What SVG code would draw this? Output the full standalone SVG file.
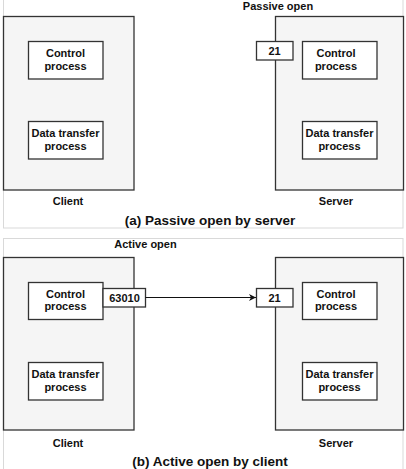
<svg xmlns="http://www.w3.org/2000/svg" width="406" height="469" viewBox="0 0 406 469">
<style>
.frame{fill:#ffffff;stroke:#d9d9d9;stroke-width:1}
.host{fill:#f5f5f5;stroke:#333333;stroke-width:1.3}
.proc{fill:#ffffff;stroke:#333333;stroke-width:1.3}
.t{font-family:"Liberation Sans",Arial,sans-serif;font-weight:bold;font-size:11px;fill:#111111;text-anchor:middle}
.cap{font-family:"Liberation Sans",Arial,sans-serif;font-weight:bold;font-size:13.5px;fill:#111111;text-anchor:middle}
.conn{stroke:#111111;stroke-width:1.2;fill:none}
</style>
<defs>
<marker id="arr" markerWidth="8" markerHeight="8" refX="7" refY="4" orient="auto" markerUnits="userSpaceOnUse">
<path d="M0,0.5 L7,4 L0,7.5 L2,4 Z" fill="#111111"/>
</marker>
</defs>
<g id="panel-a">
<rect class="frame" x="3.5" y="-1" width="399.5" height="229"/>
<text class="t" x="278" y="9.5">Passive open</text>
<text class="cap" x="210" y="225">(a) Passive open by server</text>
</g>
<g id="client-a">
<rect class="host" x="3.5" y="16.5" width="130.5" height="173.5"/>
<text class="t" x="68" y="205">Client</text>
</g>
<g id="client-a-control">
<rect class="proc" x="28.5" y="41.5" width="74.5" height="37.5"/>
<text class="t" x="65.5" y="57">Control<tspan x="65.5" dy="12.5">process</tspan></text>
</g>
<g id="client-a-data">
<rect class="proc" x="28.5" y="121.5" width="74.5" height="37.5"/>
<text class="t" x="65.5" y="137">Data transfer<tspan x="65.5" dy="12.5">process</tspan></text>
</g>
<g id="server-a">
<rect class="host" x="275.5" y="16.5" width="128" height="173.5"/>
<text class="t" x="336" y="205">Server</text>
</g>
<g id="server-a-port">
<rect class="proc" x="256.5" y="41.5" width="36.5" height="18.5"/>
<text class="t" x="274.5" y="55">21</text>
</g>
<g id="server-a-control">
<rect class="proc" x="302.5" y="41.5" width="74.5" height="37.5"/>
<text class="t" x="336" y="57">Control<tspan x="336" dy="12.5">process</tspan></text>
</g>
<g id="server-a-data">
<rect class="proc" x="302.5" y="121.5" width="74.5" height="37.5"/>
<text class="t" x="339.5" y="137">Data transfer<tspan x="339.5" dy="12.5">process</tspan></text>
</g>
<g id="panel-b">
<rect class="frame" x="3.5" y="238.5" width="399.5" height="235"/>
<text class="t" x="145.5" y="248">Active open</text>
<text class="cap" x="210" y="466">(b) Active open by client</text>
</g>
<g id="client-b">
<rect class="host" x="3.5" y="257.5" width="130.5" height="172.5"/>
<text class="t" x="68" y="447">Client</text>
</g>
<g id="client-b-control">
<rect class="proc" x="28.5" y="282.5" width="74.5" height="37"/>
<text class="t" x="65.5" y="297.5">Control<tspan x="65.5" dy="12.5">process</tspan></text>
</g>
<g id="client-b-port">
<rect class="proc" x="103" y="288.5" width="42.5" height="18.5"/>
<text class="t" x="124.5" y="302">63010</text>
</g>
<g id="client-b-data">
<rect class="proc" x="28.5" y="362.5" width="74.5" height="37.5"/>
<text class="t" x="65.5" y="378">Data transfer<tspan x="65.5" dy="12.5">process</tspan></text>
</g>
<g id="server-b">
<rect class="host" x="275.5" y="257.5" width="128" height="172.5"/>
<text class="t" x="336" y="447">Server</text>
</g>
<g id="server-b-port">
<rect class="proc" x="256.5" y="288.5" width="36.5" height="18.5"/>
<text class="t" x="274.5" y="302">21</text>
</g>
<g id="server-b-control">
<rect class="proc" x="302.5" y="282.5" width="74.5" height="37"/>
<text class="t" x="336" y="297.5">Control<tspan x="336" dy="12.5">process</tspan></text>
</g>
<g id="server-b-data">
<rect class="proc" x="302.5" y="362.5" width="74.5" height="37.5"/>
<text class="t" x="339.5" y="378">Data transfer<tspan x="339.5" dy="12.5">process</tspan></text>
</g>
<g id="connectors">
<line class="conn" x1="145.5" y1="297.5" x2="256" y2="297.5" marker-end="url(#arr)"/>
</g>
</svg>
